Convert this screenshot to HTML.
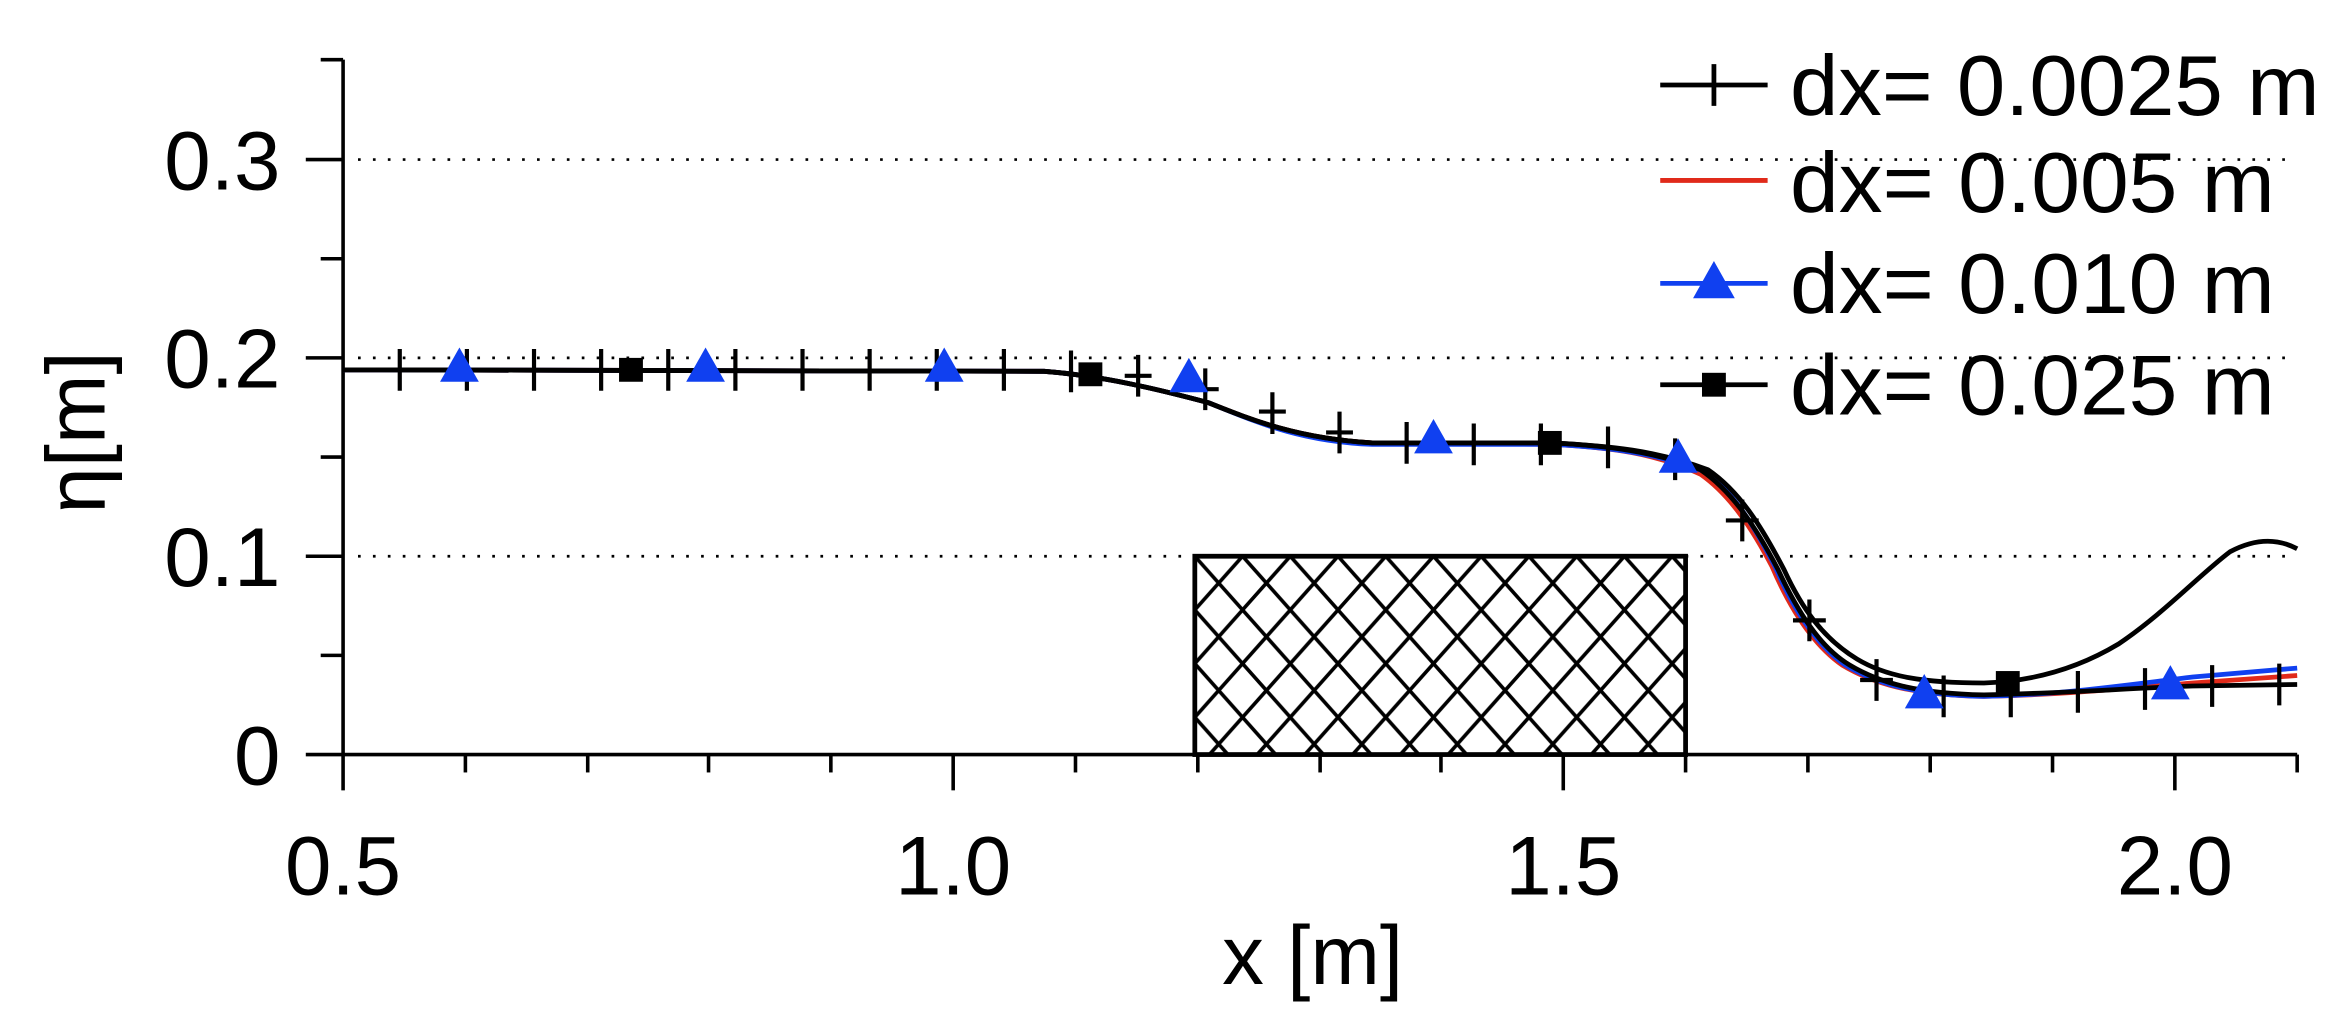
<!DOCTYPE html>
<html><head><meta charset="utf-8"><style>
html,body{margin:0;padding:0;background:#fff;}
svg{display:block;}
text{font-family:"Liberation Sans",sans-serif;fill:#000;}
</style></head><body>
<svg width="2327" height="1020" viewBox="0 0 1560 684" preserveAspectRatio="none">
<defs>
<pattern id="hatch" patternUnits="userSpaceOnUse" x="801" y="373" width="32" height="36">
<path d="M0,0 L32,36 M32,0 L0,36 M-16,18 L0,36 M16,-18 L32,0 M32,0 L48,-18 M-16,18 L0,0 M16,54 L32,36 M32,36 L48,54" stroke="#000" stroke-width="2.4" fill="none"/>
</pattern>
</defs>
<g stroke="#000" stroke-width="1.8" stroke-dasharray="1.8 8.2">
<line x1="240" y1="107" x2="1540" y2="107"/>
<line x1="240" y1="240" x2="1540" y2="240"/>
<line x1="240" y1="373" x2="1540" y2="373"/>
</g>
<rect x="801" y="373" width="329" height="133" fill="url(#hatch)" stroke="#000" stroke-width="3.2"/>
<g stroke="#000" stroke-width="2.4" fill="none">
<line x1="230" y1="40" x2="230" y2="530"/>
<line x1="205" y1="506" x2="1540" y2="506"/>
<line x1="205" y1="373" x2="230" y2="373"/>
<line x1="205" y1="240" x2="230" y2="240"/>
<line x1="205" y1="107" x2="230" y2="107"/>
<line x1="215" y1="439.5" x2="230" y2="439.5"/>
<line x1="215" y1="306.5" x2="230" y2="306.5"/>
<line x1="215" y1="173.5" x2="230" y2="173.5"/>
<line x1="215" y1="40" x2="230" y2="40"/>
<line x1="639" y1="506" x2="639" y2="530"/>
<line x1="1048" y1="506" x2="1048" y2="530"/>
<line x1="1458" y1="506" x2="1458" y2="530"/>
<line x1="312" y1="506" x2="312" y2="518"/>
<line x1="394" y1="506" x2="394" y2="518"/>
<line x1="475" y1="506" x2="475" y2="518"/>
<line x1="557" y1="506" x2="557" y2="518"/>
<line x1="721" y1="506" x2="721" y2="518"/>
<line x1="803" y1="506" x2="803" y2="518"/>
<line x1="885" y1="506" x2="885" y2="518"/>
<line x1="966" y1="506" x2="966" y2="518"/>
<line x1="1130" y1="506" x2="1130" y2="518"/>
<line x1="1212" y1="506" x2="1212" y2="518"/>
<line x1="1294" y1="506" x2="1294" y2="518"/>
<line x1="1376" y1="506" x2="1376" y2="518"/>
<line x1="1540" y1="506" x2="1540" y2="518"/>
</g>
<g font-size="56" text-anchor="end">
<text x="188" y="526">0</text>
<text x="188" y="393">0.1</text>
<text x="188" y="260">0.2</text>
<text x="188" y="127">0.3</text>
</g>
<g font-size="56" text-anchor="middle">
<text x="230" y="600">0.5</text>
<text x="639" y="600">1.0</text>
<text x="1048" y="600">1.5</text>
<text x="1458" y="600">2.0</text>
<text x="880" y="660">x [m]</text>
</g>
<text font-size="56" text-anchor="middle" transform="translate(70,290) rotate(-90)">η[m]</text>
<g fill="none" stroke-width="3.2" stroke-linejoin="round">
<path stroke="#e02a1a" d="M230,248 L700,249 C740,252 780,262 810,270 C840,282 870,294 920,297 L1040,298 C1080,300 1110,304 1140,318 C1160,332 1175,355 1188,380 C1200,408 1215,432 1235,446 C1255,458 1280,466 1330,467 C1380,466 1420,462 1470,458 L1540,453"/>
<path stroke="#1040f0" d="M230,248 L700,249 C740,252 780,262 810,270 C840,282 870,296 920,298 L1040,298 C1080,300 1110,304 1142,316 C1163,330 1177,355 1190,380 C1202,408 1217,432 1237,446 C1257,458 1282,466 1330,467 C1380,466 1420,460 1470,454 L1540,448"/>
<path stroke="#000" d="M230,248 L700,249 C740,252 780,262 810,270 C840,282 870,294 920,297 L1040,297 C1080,299 1110,303 1140,315 C1162,330 1178,355 1192,382 C1205,410 1220,434 1240,446 C1260,458 1285,465 1330,466 C1380,465 1420,462 1470,460 L1540,459"/>
<path stroke="#000" d="M230,248 L700,249 C740,252 780,262 810,270 C840,282 870,294 920,297 L1040,297 C1080,299 1110,302 1145,315 C1167,330 1182,355 1196,382 C1208,408 1222,428 1245,442 C1265,454 1290,458 1330,458 C1360,457 1390,450 1420,432 C1450,412 1475,385 1495,370 C1510,362 1525,360 1540,368"/>
</g>
<g stroke="#000" stroke-width="2.8">
<path d="M268,234v28M313,234v28M358,234v28M403,234v28M448,234v28M493,234v28M538,234v28M583,234v28M628,234v28M673,234v28M718,235v28M763,238v28M808,247v28M853,263v28M898,276v28M943,283v28M988,284v28M1033,284v28M1078,286v28M1123,294v28M1168,335v28M1213,402v28M1258,442v28M1303,453v28M1348,453v28M1393,450v28M1438,448v28M1483,446v28M1528,445v28"/>
<path d="M754,252h18M799,261h18M844,276h18M889,290h18M1157,349h22M1202,416h22M1247,456h22"/>
</g>
<g fill="#000">
<rect x="415" y="240" width="16" height="16"/>
<rect x="723" y="243" width="16" height="16"/>
<rect x="1031" y="289" width="16" height="16"/>
<rect x="1338" y="450" width="16" height="16"/>
</g>
<g fill="#1040f0">
<path d="M308,233 l-13,23 h26z"/>
<path d="M473,233 l-13,23 h26z"/>
<path d="M633,233 l-13,23 h26z"/>
<path d="M797,240 l-13,23 h26z"/>
<path d="M961,281 l-13,23 h26z"/>
<path d="M1125,294 l-13,23 h26z"/>
<path d="M1290,452 l-13,23 h26z"/>
<path d="M1455,446 l-13,23 h26z"/>
</g>
<g stroke-width="3.2">
<line x1="1113" y1="57" x2="1185" y2="57" stroke="#000"/>
<line x1="1149" y1="43" x2="1149" y2="71" stroke="#000"/>
<line x1="1113" y1="121" x2="1185" y2="121" stroke="#e02a1a"/>
<line x1="1113" y1="190" x2="1185" y2="190" stroke="#1040f0"/>
<line x1="1113" y1="258" x2="1185" y2="258" stroke="#000"/>
</g>
<path d="M1149,175 l-14,25 h28z" fill="#1040f0"/>
<rect x="1141" y="250" width="16" height="16" fill="#000"/>
<g font-size="57">
<text x="1200" y="77" textLength="355" lengthAdjust="spacingAndGlyphs">dx= 0.0025 m</text>
<text x="1200" y="142" textLength="325" lengthAdjust="spacingAndGlyphs">dx= 0.005 m</text>
<text x="1200" y="210" textLength="325" lengthAdjust="spacingAndGlyphs">dx= 0.010 m</text>
<text x="1200" y="278" textLength="325" lengthAdjust="spacingAndGlyphs">dx= 0.025 m</text>
</g>
</svg>
</body></html>
